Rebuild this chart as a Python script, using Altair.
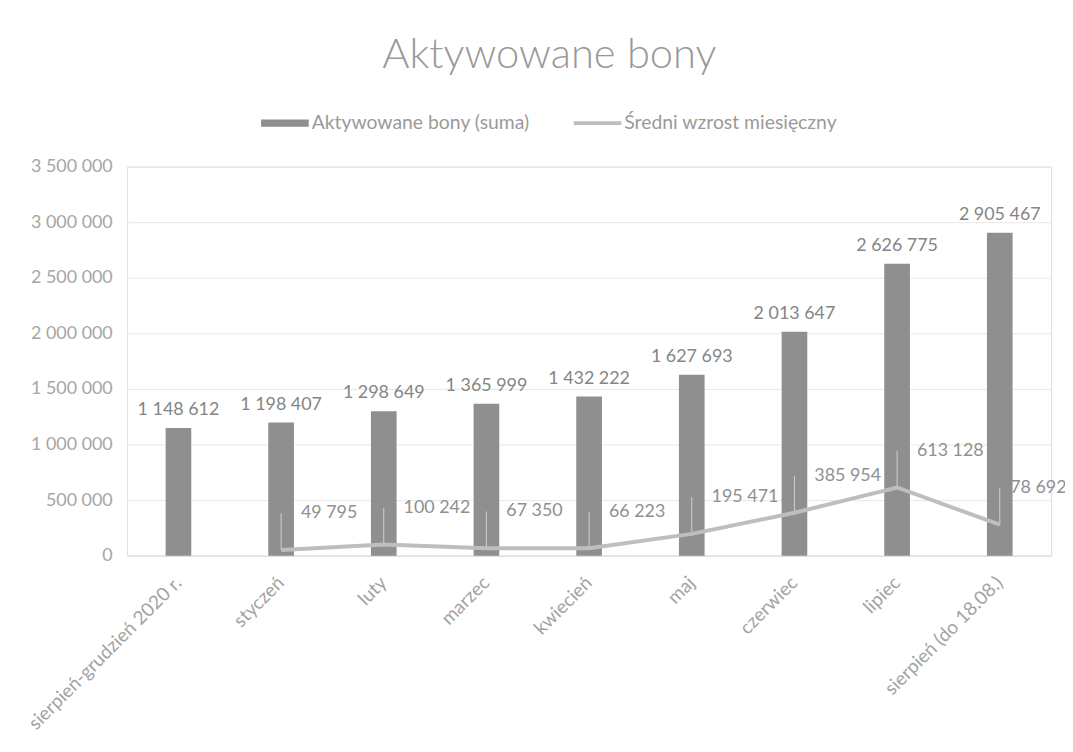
import altair as alt
import pandas as pd

categories = ["sierpień-grudzień 2020 r.", "styczeń", "luty", "marzec", "kwiecień",
              "maj", "czerwiec", "lipiec", "sierpień (do 18.08.)"]
aktywowane = [1148612, 1198407, 1298649, 1365999, 1432222, 1627693, 2013647, 2626775, 2905467]
wzrost = [None, 49795, 100242, 67350, 66223, 195471, 385954, 613128, 278692]
series_names = ["Aktywowane bony (suma)", "Średni wzrost miesięczny"]
y_ticks = [0, 500000, 1000000, 1500000, 2000000, 2500000, 3000000, 3500000]

BAR_C = "#8f8f8f"
LINE_C = "#bebebe"
FONT = "Lato"

bars_df = pd.DataFrame({"kat": categories, "val": aktywowane})
line_df = pd.DataFrame({"kat": categories, "val": wzrost}).dropna()
legend_df = pd.DataFrame({"seria": series_names, "kat": categories[0]})

x_enc = alt.X("kat:N", sort=categories,
              scale=alt.Scale(paddingInner=0.75, paddingOuter=0.375),
              axis=alt.Axis(title=None, labelAngle=-45, labelFontSize=19, labelColor="#a3a3a3",
                            labelFont=FONT, ticks=False, domainColor="#dcdcdc",
                            labelPadding=24, grid=False, labelLimit=400))
y_enc = alt.Y("val:Q", scale=alt.Scale(domain=[0, 3500000], nice=False),
              axis=alt.Axis(title=None, values=y_ticks, format=",d", labelFontSize=18,
                            labelColor="#a6a6a6", labelFont=FONT, ticks=False, domain=False,
                            gridColor="#e8e8e8", labelPadding=15))

legend = alt.Legend(
    title=None, orient="none", legendX=135, legendY=-68, direction="horizontal",
    labelFontSize=19.5, labelColor="#9a9a9a", labelFont=FONT, columnPadding=44,
    symbolSize=2304, labelOffset=3, symbolStrokeWidth=0, symbolOpacity=1, labelLimit=400)

X_PLAIN = alt.X("kat:N", sort=categories)

bars = alt.Chart(bars_df).mark_bar(color=BAR_C).encode(x=x_enc, y=y_enc)

bar_text = alt.Chart(bars_df).mark_text(
    baseline="alphabetic", dy=-13, fontSize=18, color="#858585", font=FONT).encode(
    x=X_PLAIN, y="val:Q", text=alt.Text("val:Q", format=",d"))

line_base = alt.Chart(line_df).transform_calculate(lab="datum.val + 330000")

leaders = line_base.mark_rule(color="#d0d0d0", strokeWidth=1).encode(
    x=X_PLAIN, y="val:Q", y2="lab:Q")

line = alt.Chart(line_df).mark_line(strokeWidth=4, color=LINE_C).encode(
    x=X_PLAIN, y="val:Q")

line_text = line_base.transform_filter(alt.datum.kat != categories[-1]).mark_text(
    align="left", baseline="middle", dx=20, fontSize=18, color="#909090", font=FONT).encode(
    x=X_PLAIN, y="lab:Q", text=alt.Text("val:Q", format=",d"))

line_text_last = line_base.transform_filter(alt.datum.kat == categories[-1]).mark_text(
    align="left", baseline="middle", dx=0, fontSize=18, color="#909090", font=FONT).encode(
    x=X_PLAIN, y="lab:Q", text=alt.Text("val:Q", format=",d"))

legend_pts = alt.Chart(legend_df).transform_calculate(val="-10000000").mark_point(
    filled=True, opacity=1, clip=True, strokeWidth=0).encode(
    x=X_PLAIN, y="val:Q",
    color=alt.Color("seria:N", scale=alt.Scale(domain=series_names, range=[BAR_C, LINE_C]),
                    legend=legend),
    shape=alt.Shape("seria:N", scale=alt.Scale(domain=series_names,
                    range=["M-1,-0.15H1V0.15H-1Z", "M-1,-0.08H1V0.08H-1Z"]),
                    legend=legend))

chart = alt.layer(line_text_last, bars, bar_text, leaders, line, line_text, legend_pts).properties(
    width=931, height=392,
    autosize=alt.AutoSizeParams(type="none"),
    padding={"left": 120, "top": 157, "right": 14, "bottom": 187},
    title=alt.TitleParams("Aktywowane bony", fontSize=42, color="#999999", font=FONT,
                          fontWeight=300, anchor="middle",
                          baseline="alphabetic", offset=0, dy=11, dx=-40),
).configure_view(stroke=None).configure(
    locale={"number": {"decimal": ",", "thousands": " ", "grouping": [3], "currency": ["", " zł"]}}
)

chart.save("out.html", embed_options={"renderer": "svg", "actions": False})
